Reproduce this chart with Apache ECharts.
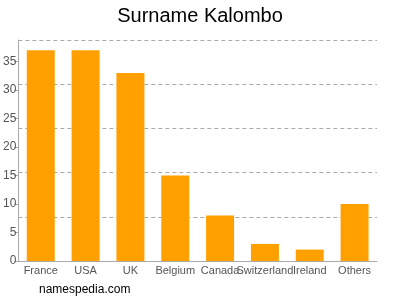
<!DOCTYPE html>
<html><head><meta charset="utf-8">
<script src="https://cdn.jsdelivr.net/npm/echarts@6/dist/echarts.min.js"></script>
<style>html,body{margin:0;padding:0;background:#fff}#c{width:400px;height:300px}</style>
</head><body><div id="c"></div>
<script>
const categories = ["France","USA","UK","Belgium","Canada","Switzerland","Ireland","Others"];
const counts = [37,37,33,15,8,3,2,10];
const axisMax = 38.8;

const chart = echarts.init(document.getElementById('c'), null, {renderer:'canvas'});
chart.setOption({
  animation:false,
  title:{text:'Surname Kalombo', left:'center', top:1, textStyle:{fontFamily:'Liberation Sans, Arial, sans-serif', fontSize:20, fontWeight:'normal', color:'#000'}},
  graphic:[{type:'text', left:39, top:284, style:{text:'namespedia.com', fontFamily:'Liberation Sans, Arial, sans-serif', fontSize:12, fill:'#000'}}],
  grid:{left:17, right:23, top:40, bottom:39, containLabel:false},
  xAxis:{type:'category', data:categories,
    axisLine:{lineStyle:{color:'#aaa'}},
    axisTick:{alignWithLabel:true, length:4, lineStyle:{color:'#aaa'}},
    axisLabel:{color:'#555', fontSize:11, fontFamily:'Liberation Sans, Arial, sans-serif', interval:0, margin:4}},
  yAxis:[
    {type:'value', min:0, max:axisMax, interval:5,
     axisLine:{show:true, lineStyle:{color:'#aaa'}},
     axisTick:{show:true, length:4, lineStyle:{color:'#aaa'}},
     axisLabel:{color:'#555', fontSize:12, fontFamily:'Liberation Sans, Arial, sans-serif', margin:2, showMaxLabel:false},
     splitLine:{show:false}},
    {type:'value', min:0, max:axisMax, interval:axisMax/5, position:'left',
     axisLine:{show:false}, axisTick:{show:false}, axisLabel:{show:false},
     splitLine:{show:true, lineStyle:{color:'#aaa', type:[4,3]}}}
  ],
  series:[{type:'bar', data:counts, yAxisIndex:0, barWidth:28, itemStyle:{color:'#ffa000'}}]
});
</script></body></html>
